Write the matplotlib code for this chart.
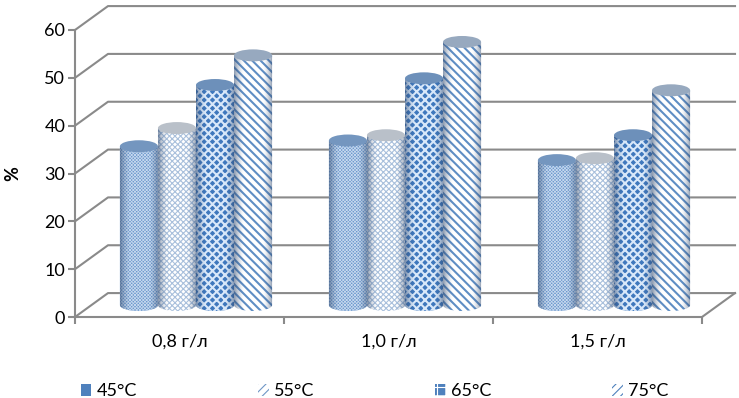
import numpy as np
import matplotlib
matplotlib.use('Agg')
import matplotlib.pyplot as plt
from matplotlib.patches import Ellipse, PathPatch, Rectangle
from matplotlib.path import Path

plt.rcParams['font.family'] = ['Lato', 'Noto Sans', 'DejaVu Sans']

categories = ['0,8 г/л', '1,0 г/л', '1,5 г/л']
series_names = ['45°C', '55°C', '65°C', '75°C']
v45 = [33.2, 34.4, 30.3]
v55 = [37.0, 35.5, 30.7]
v65 = [46.0, 47.4, 35.5]
v75 = [52.2, 55.0, 44.9]
yticks = [0, 10, 20, 30, 40, 50, 60]

series = [v45, v55, v65, v75]
faces = ['#6b97cc', '#ffffff', '#3f78bd', '#ffffff']
hatch_cols = ['#c4d7ee', '#a9c0dc', '#d8e8fa', '#5f8ec4']
hatches = ['xxxxxxxxxx', 'xxxxxx', 'xxxx', '\\\\\\\\']
hatch_lw = [0.6, 0.8, 1.5, 1.5]
tops = ['#7496bf', '#b9c0c9', '#6d90ba', '#97a9bf']
legend_faces = ['#4f81bd', '#ffffff', '#4f81bd', '#ffffff']
legend_hatches = [None, '////', '++', '////']
legend_cols = ['#4f81bd', '#6f97c6', '#ffffff', '#4f81bd']
grey = '#8a8a8a'

fig = plt.figure(figsize=(7.39, 3.98), dpi=100)
ax = fig.add_axes([75 / 739, 1 - 317 / 398, 627 / 739, 287 / 398])
ax.set_xlim(0, 3)
ax.set_ylim(0, 60)
plt.rcParams['hatch.linewidth'] = 0.8

# 3D look: back wall is offset from the front axis plane
depth_x = 33 / 209
depth_y = 5.0
for v in yticks:
    ax.plot([0, depth_x, 3 + depth_x], [v, v + depth_y, v + depth_y], color=grey, lw=1.5, clip_on=False, zorder=1)
ax.plot([3, 3 + depth_x], [0, depth_y], color=grey, lw=1.5, clip_on=False, zorder=1)

width = 0.182
ry = 1.25  # half height of cylinder ellipse
k = 0.5523
for i in range(3):
    for j, vals in enumerate(series):
        cx = i + 0.5 + depth_x / 2 + (j - 1.5) * width
        base = depth_y / 2
        top = base + vals[i]
        x0, x1 = cx - width / 2, cx + width / 2
        w = width / 2
        verts = [(x0, top), (x0, base),
                 (x0, base - k * ry), (cx - k * w, base - ry), (cx, base - ry),
                 (cx + k * w, base - ry), (x1, base - k * ry), (x1, base),
                 (x1, top), (x0, top)]
        codes = [Path.MOVETO, Path.LINETO, Path.CURVE4, Path.CURVE4, Path.CURVE4,
                 Path.CURVE4, Path.CURVE4, Path.CURVE4, Path.LINETO, Path.CLOSEPOLY]
        body = PathPatch(Path(verts, codes), facecolor=faces[j], edgecolor=hatch_cols[j],
                         hatch=hatches[j], lw=0, zorder=3 + j, clip_on=False)
        body.set_hatch_linewidth(hatch_lw[j])
        ax.add_patch(body)
        # shading across the cylinder
        t = np.linspace(-1, 1, 40)
        alpha = np.clip((np.abs(t) - 0.5) / 0.5, 0, 1) ** 1.5 * 0.55
        rgba = np.zeros((1, 40, 4))
        rgba[..., 0] = 0.2
        rgba[..., 1] = 0.3
        rgba[..., 2] = 0.45
        rgba[..., 3] = alpha
        im = ax.imshow(rgba, extent=[x0, x1, base - ry, top], aspect='auto', zorder=3 + j + 0.1,
                       interpolation='bilinear')
        shade_clip = PathPatch(Path(verts, codes), transform=ax.transData, visible=False)
        ax.add_patch(shade_clip)
        im.set_clip_path(shade_clip)
        ax.add_patch(Ellipse((cx, top), width, 2 * ry, facecolor=tops[j], edgecolor='none',
                             zorder=3 + j + 0.2, clip_on=False))

ax.set_xlim(0, 3)
ax.set_ylim(0, 60)
ax.set_facecolor('none')
for s in ['top', 'right']:
    ax.spines[s].set_visible(False)
for s in ['left', 'bottom']:
    ax.spines[s].set_color(grey)
    ax.spines[s].set_linewidth(1.5)

ax.set_yticks(yticks)
ax.set_xticks([0, 1, 2, 3])
ax.set_xticklabels([])
ax.set_xticks([0.5, 1.5, 2.5], labels=categories, minor=True)
ax.tick_params(axis='both', which='major', color=grey, width=1.5, length=5, labelsize=13, labelcolor='black', pad=2)
ax.tick_params(axis='x', which='minor', length=0, labelsize=13, pad=12)
ax.set_ylabel('%', fontsize=13, fontweight='bold', labelpad=17)

handles = [Rectangle((0, 0), 1, 1, facecolor=legend_faces[n], edgecolor=legend_cols[n],
                     hatch=legend_hatches[n], lw=0) for n in range(4)]
fig.legend(handles, series_names, ncol=4, loc='lower left', bbox_to_anchor=(68 / 739, -0.035), frameon=False,
           fontsize=13, handlelength=0.6, handleheight=0.6, handletextpad=0.28, columnspacing=6.7,
           borderpad=0.2)

fig.savefig('out.png', dpi=100)
